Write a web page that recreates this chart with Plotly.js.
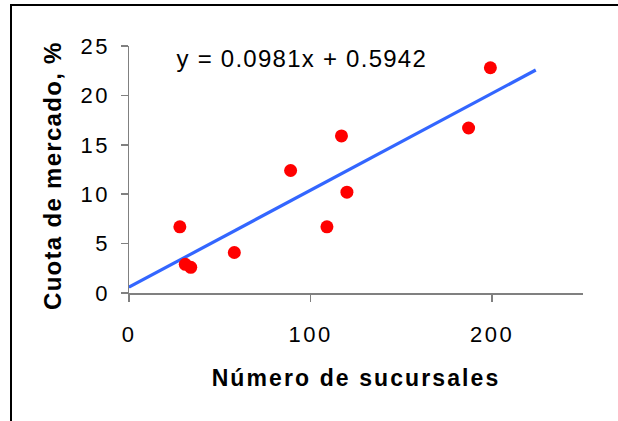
<!DOCTYPE html>
<html>
<head>
<meta charset="utf-8">
<script src="https://cdn.plot.ly/plotly-3.0.1.min.js"></script>
<style>
  html, body { margin: 0; padding: 0; background: #ffffff; }
  #wrap { position: relative; width: 618px; height: 421px; overflow: hidden; }
  #chart { position: absolute; left: 0; top: 0; width: 618px; height: 421px; }
  #frame { position: absolute; left: 10px; top: 4px; width: 700px; height: 500px;
           border-top: 2px solid #000; border-left: 2px solid #000; pointer-events: none; }
  /* Excel-like wide character spacing */
  #chart .xtick text, #chart .ytick text { letter-spacing: 2.5px; }
  #chart text.xtitle { letter-spacing: 2.1px; }
  #chart .annotation[data-index="0"] text { letter-spacing: 1.25px; }
  #chart .annotation[data-index="1"] text { letter-spacing: 1.3px; }
</style>
</head>
<body>
<div id="wrap">
  <div id="chart"></div>
  <div id="frame"></div>
</div>
<script>
// Data
const sucursales = [28, 31, 34, 58, 89, 109, 117, 120, 187, 199];
const cuota      = [6.7, 2.9, 2.6, 4.1, 12.4, 6.7, 15.9, 10.2, 16.7, 22.8];

// Trendline shown on the chart: y = 0.0981x + 0.5942, drawn from x = 0 to x = 224
const trendSlope = 0.0981;
const trendIntercept = 0.5942;
const trendX = [0, 224];

// Axis ticks and titles
const xTicks = [0, 100, 200];
const xTickLabels = ['0', '100', '200'];
const yTicks = [0, 5, 10, 15, 20, 25];
const yTickLabels = ['0', '5', '10', '15', '20', '25'];
const xTitle = 'Número de sucursales';
const yTitle = 'Cuota de mercado, %';

const trendY = trendX.map(x => trendSlope * x + trendIntercept);

const FONT = 'Liberation Sans, Arial, sans-serif';

const traces = [
  {
    x: trendX, y: trendY, type: 'scatter', mode: 'lines',
    line: { color: '#3366FF', width: 3.2 },
    hoverinfo: 'skip', showlegend: false
  },
  {
    x: sucursales, y: cuota, type: 'scatter', mode: 'markers',
    marker: { color: '#FF0000', size: 13, line: { width: 0 } },
    showlegend: false
  }
];

const layout = {
  width: 618, height: 421,
  margin: { l: 129, r: 35, t: 46, b: 128 },
  paper_bgcolor: 'rgba(0,0,0,0)',
  plot_bgcolor: 'rgba(0,0,0,0)',
  font: { family: FONT, color: '#000' },
  showlegend: false,
  xaxis: {
    range: [0, 250],
    tickvals: xTicks, ticktext: xTickLabels,
    showgrid: false, zeroline: false,
    showline: true, linecolor: '#808080', linewidth: 1.5,
    ticks: 'outside', ticklen: 7, tickwidth: 1.5, tickcolor: '#808080',
    ticklabelstandoff: 14,
    tickfont: { family: FONT, size: 22, color: '#000' },
    title: { text: xTitle, standoff: 24,
             font: { family: FONT, size: 23, color: '#000', weight: 'bold' } },
    fixedrange: true
  },
  yaxis: {
    range: [0, 25],
    tickvals: yTicks, ticktext: yTickLabels,
    showgrid: false, zeroline: false,
    showline: true, linecolor: '#808080', linewidth: 1.5,
    ticks: 'outside', ticklen: 7, tickwidth: 1.5, tickcolor: '#808080',
    ticklabelstandoff: 6,
    tickfont: { family: FONT, size: 22, color: '#000' },
    fixedrange: true
  },
  annotations: [
    {
      text: 'y = ' + trendSlope.toFixed(4) + 'x + ' + trendIntercept.toFixed(4),
      x: 95, y: 23.7, xref: 'x', yref: 'y',
      xanchor: 'center', yanchor: 'middle', showarrow: false,
      font: { family: FONT, size: 24, color: '#000' }
    },
    {
      text: '<b>' + yTitle + '</b>',
      x: -0.168, y: 0.474, xref: 'paper', yref: 'paper',
      xanchor: 'center', yanchor: 'middle', showarrow: false, textangle: -90,
      font: { family: FONT, size: 24, color: '#000' }
    }
  ]
};

Plotly.newPlot('chart', traces, layout, { displayModeBar: false, staticPlot: true });
</script>
</body>
</html>
